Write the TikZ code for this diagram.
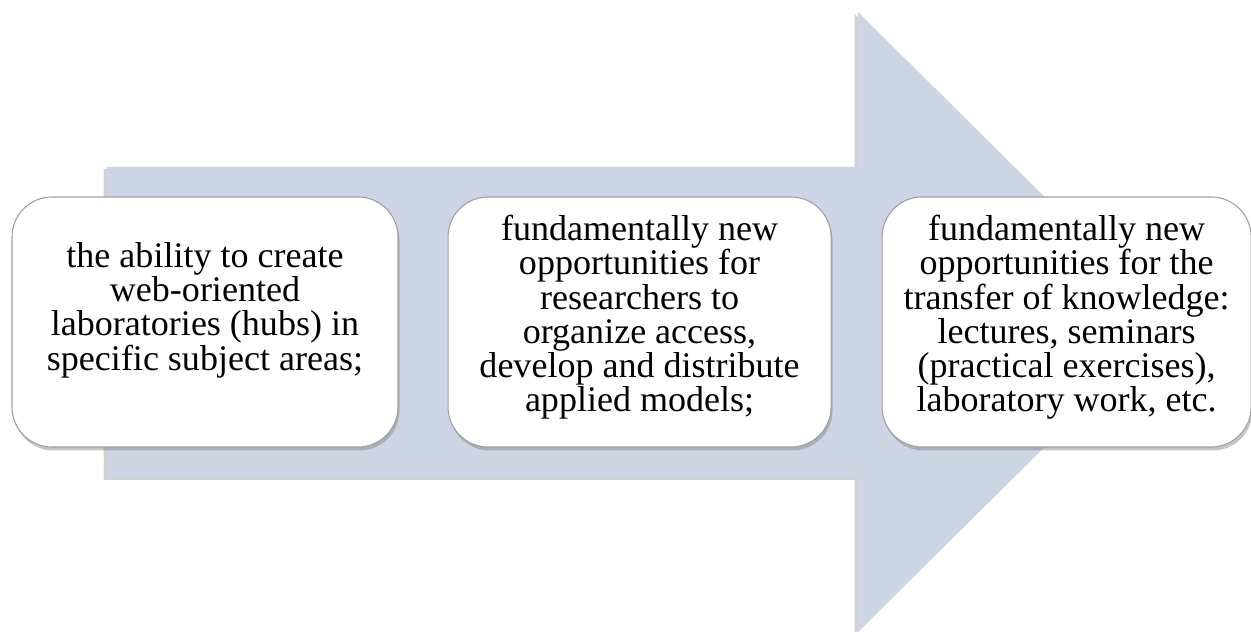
\documentclass[tikz,border=0pt]{standalone}
\usepackage{fontspec}
\setmainfont{Liberation Serif}
\usepackage{tikz}
\usetikzlibrary{shapes,shadows,positioning}
\definecolor{arrowBlue}{RGB}{205,213,228}
\tikzstyle{bigArrow} = [fill=arrowBlue, drop shadow={shadow xshift=-0.07cm, shadow yshift=-0.04cm, fill=gray!45, opacity=0.8}]
\tikzstyle{card} = [rectangle, rounded corners=0.8cm, minimum height=5cm, inner sep=2pt,
align=center, draw=gray!75, line width=0.6pt, fill=white,
font=\fontsize{20.5}{19.5}\selectfont,
drop shadow={shadow xshift=0.03cm, shadow yshift=-0.07cm, opacity=0.45}]

\begin{document}
\begin{tikzpicture}
		\useasboundingbox (0,0) rectangle (25.02,12.64);
		%arrow behind the cards
		\draw[bigArrow,draw=none] (2.14,9.30) -- (17.16,9.30) -- (17.16,12.40) -- (23.42,6.20)
			-- (17.16,0) -- (17.16,3.08) -- (2.14,3.08) -- cycle;
		
		%cards
		\node[card, minimum width=7.72cm] (ability) at (4.10,6.20)
			{the ability to create\\ web-oriented\\ laboratories (hubs) in\\ specific subject areas;\\[-0.05cm]};
		\node[card, minimum width=7.66cm, right=0.98cm of ability] (research)
			{fundamentally new\\ opportunities for\\ researchers to\\ organize access,\\ develop and distribute\\ applied models;\\[-0.35cm]};
		\node[card, minimum width=7.38cm, right=1cm of research] (transfer)
			{fundamentally new\\ opportunities for the\\ transfer of knowledge:\\ lectures, seminars\\ (practical exercises),\\ laboratory work, etc.\\[-0.35cm]};
	\end{tikzpicture}
\end{document}
